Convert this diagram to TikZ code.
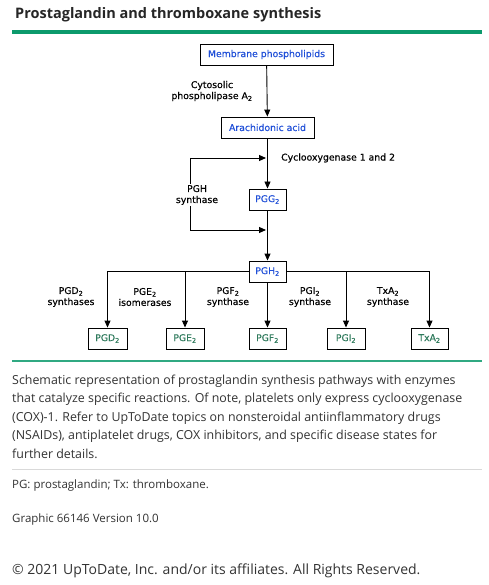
\documentclass[tikz,border=0pt]{standalone}
\usepackage{fontspec}
\setmainfont{Open Sans}
\newfontfamily\diag[FakeBold=0.35]{DejaVu Sans}
\usetikzlibrary{arrows.meta}
\definecolor{utdgreen}{HTML}{0C9A6C}
\definecolor{boxblue}{HTML}{1F4FD8}
\definecolor{boxgreen}{HTML}{2E7A5C}
\definecolor{captxt}{HTML}{333333}
\begin{document}
\begin{tikzpicture}[x=1pt,y=-1pt,
  bx/.style={draw,line width=0.9pt,minimum height=21pt,inner sep=0pt,font=\diag\fontsize{9.3}{10}\selectfont},
  bb/.style={bx,text=boxblue},
  bg/.style={bx,text=boxgreen},
  lbl/.style={align=center,font=\diag\fontsize{9.3}{11}\selectfont,inner sep=1pt},
  ln/.style={line width=0.9pt},
  arr/.style={ln,-{Triangle[length=7pt,width=6pt]}},
  captext/.style={anchor=base west,inner sep=0pt,text=captxt,font=\fontsize{12.4}{15}\selectfont}]
\useasboundingbox (0,0) rectangle (488,585);
\fill[white] (0,0) rectangle (488,585);
% title
\node[anchor=base west,inner sep=0pt,text=black!85,font=\bfseries\fontsize{14.5}{17}\selectfont] (title) at (15,19) {Prostaglandin and thromboxane synthesis};
\fill[utdgreen] (12,30.5) rectangle (482,34);
% diagram
\node[bb,minimum width=133pt] (mem) at (266.5,54.5) {Membrane phospholipids};
\node[bb,minimum width=93pt] (ara) at (267.5,127.5) {Arachidonic acid};
\node[bb,minimum width=37pt] (pgg) at (267.5,199.5) {PGG\textsubscript{2}};
\node[bb,minimum width=37pt] (pgh) at (267.5,271.5) {PGH\textsubscript{2}};
\node[bg,minimum width=39pt] (pgd) at (107.5,338.5) {PGD\textsubscript{2}};
\node[bg,minimum width=38pt] (pge) at (185,338.5) {PGE\textsubscript{2}};
\node[bg,minimum width=37pt] (pgf) at (267.5,338.5) {PGF\textsubscript{2}};
\node[bg,minimum width=38pt] (pgi) at (346,338.5) {PGI\textsubscript{2}};
\node[bg,minimum width=37pt] (txa) at (429.5,338.5) {TxA\textsubscript{2}};
\draw[arr] (mem) -- (ara);
\draw[arr] (ara) -- (pgg);
\draw[arr] (pgg) -- (pgh);
\node[lbl] (cpl) at (212,91) {Cytosolic\\phospholipase A\textsubscript{2}};
\node[lbl,anchor=west] (cox) at (280,158) {Cyclooxygenase 1 and 2};
\coordinate (lt) at (190,158);
\coordinate (lb) at (190,230);
\coordinate (rt) at (266,158);
\coordinate (rb) at (266,230);
\draw[ln] (lt) -- (lb);
\draw[arr] (lt) -- (rt);
\draw[arr] (lb) -- (rb);
\node[lbl,fill=white] (pghs) at (197,195) {PGH\\synthase};
% branches
\draw[arr] (pgh.west) -| (pgd.north);
\draw[arr] (pgh.west) -| (pge.north);
\draw[arr] (pgh) -- (pgf);
\draw[arr] (pgh.east) -| (pgi.north);
\draw[arr] (pgh.east) -| (txa.north);
\node[lbl] (l1) at (71,297) {PGD\textsubscript{2}\\synthases};
\node[lbl] (l2) at (145,297) {PGE\textsubscript{2}\\isomerases};
\node[lbl] (l3) at (228,297) {PGF\textsubscript{2}\\synthase};
\node[lbl] (l4) at (310,297) {PGI\textsubscript{2}\\synthase};
\node[lbl] (l5) at (388,297) {TxA\textsubscript{2}\\synthase};
% caption
\fill[utdgreen!85] (12,360) rectangle (482,362);
\node[captext] (c1) at (12,384) {Schematic representation of prostaglandin synthesis pathways with enzymes};
\node[captext] (c2) at (12,402.5) {that catalyze specific reactions. Of note, platelets only express cyclooxygenase};
\node[captext] (c3) at (12,421) {(COX)-1. Refer to UpToDate topics on nonsteroidal antiinflammatory drugs};
\node[captext] (c4) at (12,439.5) {(NSAIDs), antiplatelet drugs, COX inhibitors, and specific disease states for};
\node[captext] (c5) at (12,458) {further details.};
\fill[black!15] (12,469) rectangle (482,470.2);
\node[captext,font=\fontsize{11.5}{14}\selectfont] (c6) at (12,488) {PG: prostaglandin; Tx: thromboxane.};
\node[captext,font=\fontsize{11.5}{14}\selectfont] (c7) at (12,522) {Graphic 66146 Version 10.0};
\node[captext,font=\fontsize{14}{17}\selectfont] (c8) at (12,574) {© 2021 UpToDate, Inc. and/or its affiliates. All Rights Reserved.};
\end{tikzpicture}
\end{document}
